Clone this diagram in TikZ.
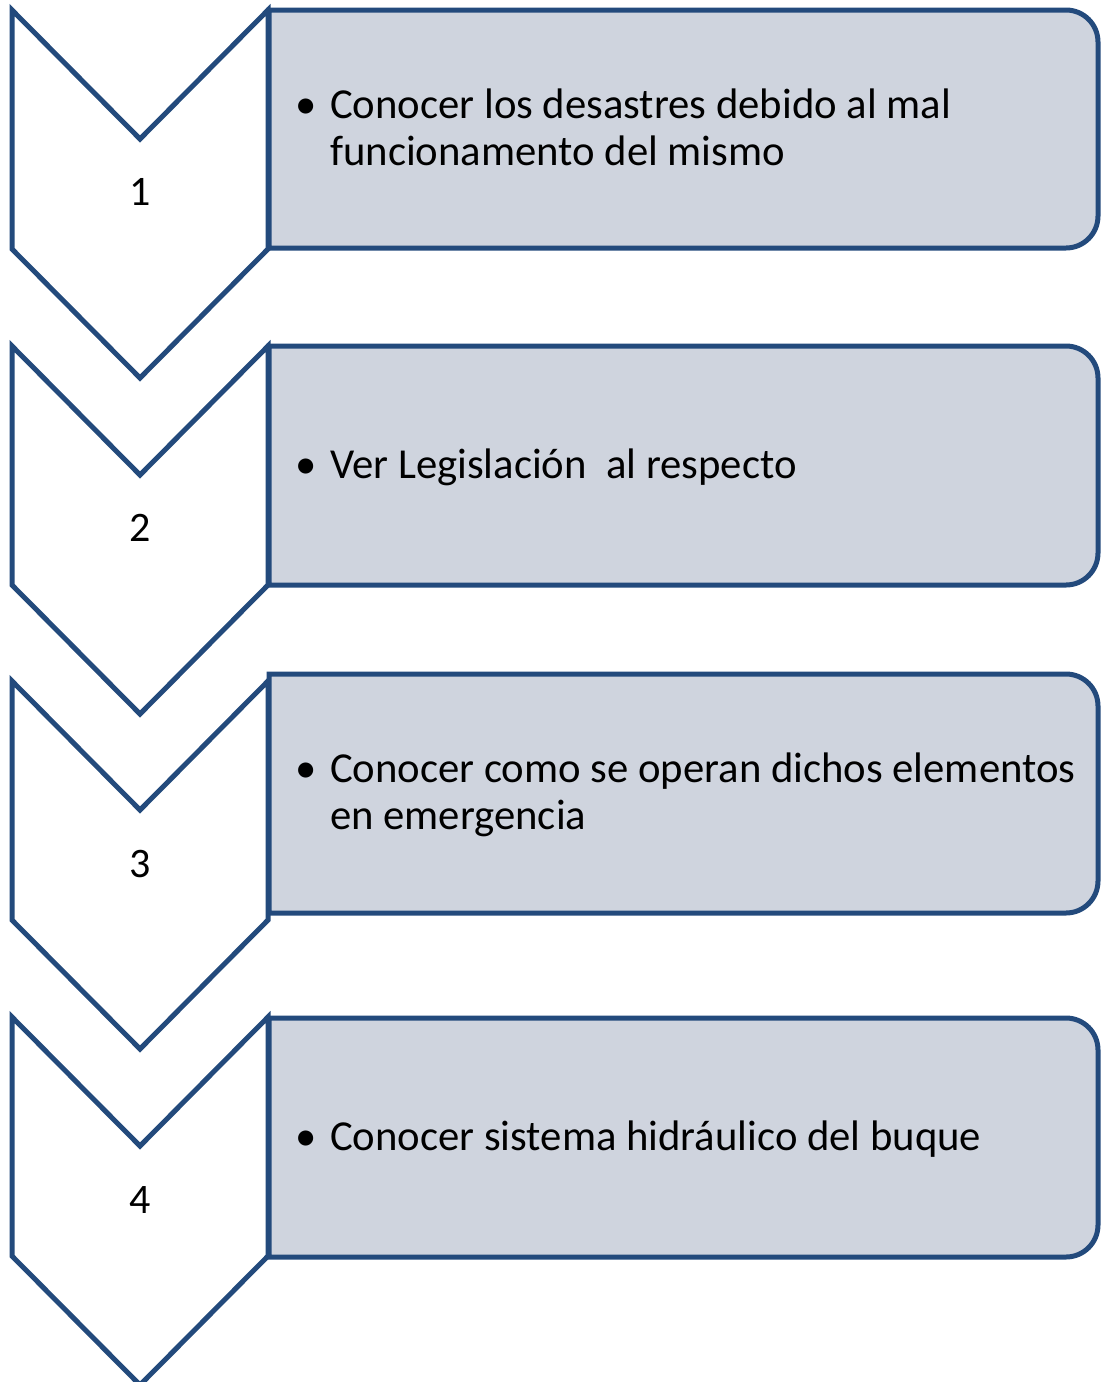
\documentclass[tikz,border=0pt]{standalone}
\usepackage{fontspec}
\setmainfont{Carlito}
\definecolor{edge}{RGB}{35,74,124}
\definecolor{boxfill}{RGB}{207,212,222}
\newcommand\mypanel[2]{%
  \draw[panel] (269,-#1) -- (1066,-#1) arc[start angle=90,end angle=0,radius=32]
    -- (1098,{-#2+32}) arc[start angle=0,end angle=-90,radius=32] -- (269,-#2) -- cycle;}
\newcommand\mychev[1]{%
  \draw[chev] (12,-#1) -- (140,{-#1-129}) -- (268,-#1) -- (268,{-#1-239})
    -- (140,{-#1-368}) -- (12,{-#1-239}) -- cycle;}
\newcommand\bul{\makebox[33pt][l]{\hspace{-2pt}•}}
\begin{document}
\begin{tikzpicture}[x=1pt,y=1pt,line join=miter,
  chev/.style={draw=edge,line width=5pt,fill=white},
  panel/.style={draw=edge,line width=5pt,fill=boxfill},
  num/.style={font=\fontsize{42}{47}\selectfont,inner sep=0pt},
  txt/.style={font=\fontsize{42.7}{47}\selectfont,anchor=west,inner sep=0pt}]
\useasboundingbox (0,0) rectangle (1101,-1382);
\mychev{10}
\mychev{346}
\mychev{681}
\mychev{1017}
\mypanel{10}{248}
\mypanel{346}{585}
\mypanel{674}{913}
\mypanel{1018}{1257}
\node[num] (n1) at (140,-192) {1};
\node[num] (n2) at (140,-528) {2};
\node[num] (n3) at (140,-864) {3};
\node[num] (n4) at (140,-1200) {4};
\node[txt] (t1) at (297,-133) {\begin{tabular}{@{}l@{}l@{}}\bul & Conocer los desastres debido al mal\\ & funcionamento del mismo\end{tabular}};
\node[txt] (t2) at (297,-469) {\begin{tabular}{@{}l@{}l@{}}\bul & Ver Legislación \ al respecto\end{tabular}};
\node[txt] (t3) at (297,-797) {\begin{tabular}{@{}l@{}l@{}}\bul & Conocer como se operan dichos elementos\\ & en emergencia\end{tabular}};
\node[txt] (t4) at (297,-1141) {\begin{tabular}{@{}l@{}l@{}}\bul & Conocer sistema hidráulico del buque\end{tabular}};
\end{tikzpicture}
\end{document}
